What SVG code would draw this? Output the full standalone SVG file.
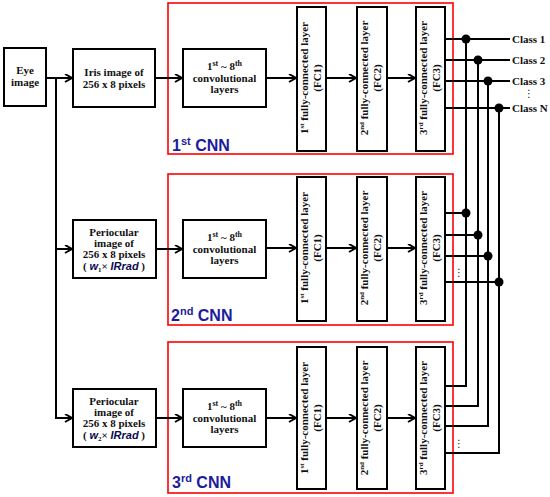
<svg xmlns="http://www.w3.org/2000/svg" width="550" height="497" viewBox="0 0 550 497">
<defs>
<marker id="arr" markerUnits="userSpaceOnUse" markerWidth="10" markerHeight="10" refX="8" refY="4.5" orient="auto">
<path d="M1,0.5 L8,4.5 L1,8.5" fill="none" stroke="#000" stroke-width="2"/>
</marker>
<style>
.box{fill:#fff;stroke:#000;stroke-width:2}
.cnn{fill:none;stroke:#ff0000;stroke-width:1.6}
.t{font-family:"Liberation Serif",serif;font-weight:bold;font-size:11px;fill:#111;text-anchor:middle}
.lab{font-family:"Liberation Serif",serif;font-weight:bold;font-size:11px;fill:#111}
.cl{font-family:"Liberation Sans",Arial,sans-serif;font-weight:bold;font-size:16px;fill:#1c1c9c}
.ln{fill:none;stroke:#000;stroke-width:2}
.dot{fill:#000}
.it{font-family:"Liberation Sans",Arial,sans-serif;font-style:italic;font-weight:bold;fill:#0a0a50}
.ell{font-family:"DejaVu Sans",sans-serif;font-size:10px;fill:#111;text-anchor:middle}
</style>
</defs>

<g id="cnn1-frame"><rect class="cnn" x="168" y="3" width="285" height="151"/><text class="cl" x="172" y="151">1<tspan font-size="11" dy="-6">st</tspan><tspan dy="6"> CNN</tspan></text></g>
<g id="cnn2-frame"><rect class="cnn" x="168" y="174" width="285" height="151"/><text class="cl" x="171" y="321">2<tspan font-size="11" dy="-6">nd</tspan><tspan dy="6"> CNN</tspan></text></g>
<g id="cnn3-frame"><rect class="cnn" x="168" y="342" width="285" height="151"/><text class="cl" x="172" y="488">3<tspan font-size="11" dy="-6">rd</tspan><tspan dy="6"> CNN</tspan></text></g>

<g id="connectors">
<line class="ln" x1="46" y1="78" x2="72" y2="78" marker-end="url(#arr)"/>
<polyline class="ln" points="56,78 56,418 72,418" marker-end="url(#arr)"/>
<line class="ln" x1="56" y1="249" x2="72" y2="249" marker-end="url(#arr)"/>
<line class="ln" x1="155" y1="78" x2="182" y2="78" marker-end="url(#arr)"/>
<line class="ln" x1="156" y1="249" x2="182" y2="249" marker-end="url(#arr)"/>
<line class="ln" x1="156" y1="418" x2="182" y2="418" marker-end="url(#arr)"/>
<line class="ln" x1="266" y1="78" x2="296" y2="78" marker-end="url(#arr)"/>
<line class="ln" x1="326" y1="78" x2="356" y2="78" marker-end="url(#arr)"/>
<line class="ln" x1="387" y1="78" x2="415" y2="78" marker-end="url(#arr)"/>
<line class="ln" x1="266" y1="248" x2="296" y2="248" marker-end="url(#arr)"/>
<line class="ln" x1="326" y1="248" x2="356" y2="248" marker-end="url(#arr)"/>
<line class="ln" x1="387" y1="248" x2="415" y2="248" marker-end="url(#arr)"/>
<line class="ln" x1="266" y1="418" x2="296" y2="418" marker-end="url(#arr)"/>
<line class="ln" x1="326" y1="418" x2="356" y2="418" marker-end="url(#arr)"/>
<line class="ln" x1="387" y1="418" x2="415" y2="418" marker-end="url(#arr)"/>
<line class="ln" x1="445" y1="39" x2="510" y2="39"/>
<line class="ln" x1="445" y1="60" x2="510" y2="60"/>
<line class="ln" x1="445" y1="81" x2="510" y2="81"/>
<line class="ln" x1="445" y1="108" x2="510" y2="108"/>
<line class="ln" x1="466" y1="39" x2="466" y2="387"/>
<line class="ln" x1="478" y1="60" x2="478" y2="407"/>
<line class="ln" x1="488" y1="81" x2="488" y2="427"/>
<line class="ln" x1="499" y1="108" x2="499" y2="454"/>
<line class="ln" x1="445" y1="213" x2="466" y2="213"/>
<line class="ln" x1="445" y1="235" x2="478" y2="235"/>
<line class="ln" x1="445" y1="256" x2="488" y2="256"/>
<line class="ln" x1="445" y1="282" x2="499" y2="282"/>
<line class="ln" x1="445" y1="386" x2="467" y2="386"/>
<line class="ln" x1="445" y1="406" x2="479" y2="406"/>
<line class="ln" x1="445" y1="426" x2="489" y2="426"/>
<line class="ln" x1="445" y1="453" x2="500" y2="453"/>
<circle class="dot" cx="466" cy="39" r="4.5"/>
<circle class="dot" cx="478" cy="60" r="4.5"/>
<circle class="dot" cx="488" cy="81" r="4.5"/>
<circle class="dot" cx="499" cy="108" r="4.5"/>
<circle class="dot" cx="466" cy="213" r="4.5"/>
<circle class="dot" cx="478" cy="235" r="4.5"/>
<circle class="dot" cx="488" cy="256" r="4.5"/>
<circle class="dot" cx="499" cy="282" r="4.5"/>
<text class="ell" x="459" y="276">⋮</text>
<text class="ell" x="459" y="447">⋮</text>
</g>

<g id="outputs">
<text class="lab" x="512" y="43">Class  1</text>
<text class="lab" x="512" y="64">Class  2</text>
<text class="lab" x="512" y="85">Class  3</text>
<text class="ell" x="529" y="97" fill="#1a237e">⋮</text>
<text class="lab" x="512" y="112">Class  N</text>
</g>

<g id="eye"><rect class="box" x="4" y="48" width="42" height="58"/><text class="t" x="25" y="74">Eye</text><text class="t" x="25" y="86">image</text></g>

<g id="iris"><rect class="box" x="73" y="49" width="82" height="58"/><text class="t" x="114" y="76">Iris image of</text><text class="t" x="114" y="88">256 x 8 pixels</text></g>

<g id="peri1"><rect class="box" x="73" y="220" width="83" height="58"/><text class="t" x="114" y="236">Periocular</text><text class="t" x="114" y="247">image of</text><text class="t" x="114" y="258">256 x 8 pixels</text><text class="t" x="114" y="270">( <tspan class="it">w</tspan><tspan font-size="7" dy="2">1</tspan><tspan dy="-2">× </tspan><tspan class="it">IRrad</tspan> )</text></g>

<g id="peri2"><rect class="box" x="73" y="389" width="83" height="58"/><text class="t" x="114" y="405">Periocular</text><text class="t" x="114" y="416">image of</text><text class="t" x="114" y="427">256 x 8 pixels</text><text class="t" x="114" y="439">( <tspan class="it">w</tspan><tspan font-size="7" dy="2">2</tspan><tspan dy="-2">× </tspan><tspan class="it">IRrad</tspan> )</text></g>

<g id="conv1"><rect class="box" x="183" y="49" width="83" height="58"/><text class="t" x="224.5" y="70">1<tspan font-size="8" dy="-4">st</tspan><tspan dy="4"> ~ 8</tspan><tspan font-size="8" dy="-4">th</tspan></text><text class="t" x="224.5" y="82">convolutional</text><text class="t" x="224.5" y="93">layers</text></g>
<g id="conv2"><rect class="box" x="183" y="220" width="83" height="58"/><text class="t" x="224.5" y="241">1<tspan font-size="8" dy="-4">st</tspan><tspan dy="4"> ~ 8</tspan><tspan font-size="8" dy="-4">th</tspan></text><text class="t" x="224.5" y="253">convolutional</text><text class="t" x="224.5" y="264">layers</text></g>
<g id="conv3"><rect class="box" x="183" y="389" width="83" height="58"/><text class="t" x="224.5" y="410">1<tspan font-size="8" dy="-4">st</tspan><tspan dy="4"> ~ 8</tspan><tspan font-size="8" dy="-4">th</tspan></text><text class="t" x="224.5" y="422">convolutional</text><text class="t" x="224.5" y="433">layers</text></g>

<g id="fc1-1"><rect class="box" x="297" y="7" width="29" height="144"/><g transform="translate(311.5,78) rotate(-90)"><text class="t" x="0" y="-4">1<tspan font-size="7" dy="-4">st</tspan><tspan dy="4"> fully-connected layer</tspan></text><text class="t" x="0" y="9">(FC1)</text></g></g>
<g id="fc2-1"><rect class="box" x="357" y="7" width="30" height="144"/><g transform="translate(372,78) rotate(-90)"><text class="t" x="0" y="-4">2<tspan font-size="7" dy="-4">nd</tspan><tspan dy="4"> fully-connected layer</tspan></text><text class="t" x="0" y="9">(FC2)</text></g></g>
<g id="fc3-1"><rect class="box" x="416" y="7" width="29" height="144"/><g transform="translate(430.5,78) rotate(-90)"><text class="t" x="0" y="-4">3<tspan font-size="7" dy="-4">rd</tspan><tspan dy="4"> fully-connected layer</tspan></text><text class="t" x="0" y="9">(FC3)</text></g></g>

<g id="fc1-2"><rect class="box" x="297" y="177" width="29" height="144"/><g transform="translate(311.5,248) rotate(-90)"><text class="t" x="0" y="-4">1<tspan font-size="7" dy="-4">st</tspan><tspan dy="4"> fully-connected layer</tspan></text><text class="t" x="0" y="9">(FC1)</text></g></g>
<g id="fc2-2"><rect class="box" x="357" y="177" width="30" height="144"/><g transform="translate(372,248) rotate(-90)"><text class="t" x="0" y="-4">2<tspan font-size="7" dy="-4">nd</tspan><tspan dy="4"> fully-connected layer</tspan></text><text class="t" x="0" y="9">(FC2)</text></g></g>
<g id="fc3-2"><rect class="box" x="416" y="177" width="29" height="144"/><g transform="translate(430.5,248) rotate(-90)"><text class="t" x="0" y="-4">3<tspan font-size="7" dy="-4">rd</tspan><tspan dy="4"> fully-connected layer</tspan></text><text class="t" x="0" y="9">(FC3)</text></g></g>

<g id="fc1-3"><rect class="box" x="297" y="347" width="29" height="142"/><g transform="translate(311.5,418) rotate(-90)"><text class="t" x="0" y="-4">1<tspan font-size="7" dy="-4">st</tspan><tspan dy="4"> fully-connected layer</tspan></text><text class="t" x="0" y="9">(FC1)</text></g></g>
<g id="fc2-3"><rect class="box" x="357" y="347" width="30" height="142"/><g transform="translate(372,418) rotate(-90)"><text class="t" x="0" y="-4">2<tspan font-size="7" dy="-4">nd</tspan><tspan dy="4"> fully-connected layer</tspan></text><text class="t" x="0" y="9">(FC2)</text></g></g>
<g id="fc3-3"><rect class="box" x="416" y="347" width="29" height="142"/><g transform="translate(430.5,418) rotate(-90)"><text class="t" x="0" y="-4">3<tspan font-size="7" dy="-4">rd</tspan><tspan dy="4"> fully-connected layer</tspan></text><text class="t" x="0" y="9">(FC3)</text></g></g>
</svg>
